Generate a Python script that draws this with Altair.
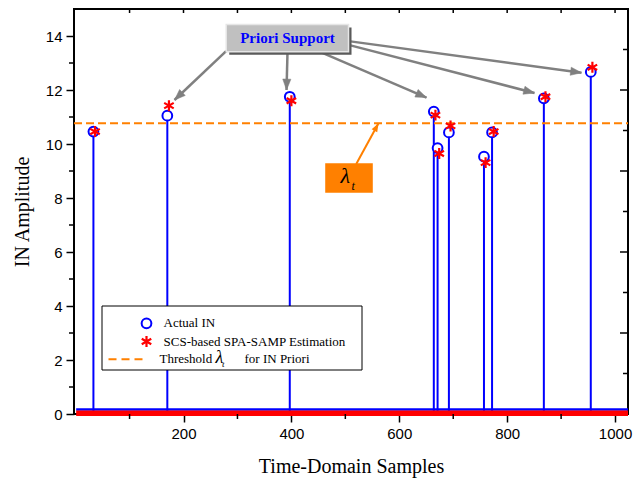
import math
import altair as alt
import pandas as pd

# ---------------- data ----------------
n_samples = 1024
actual_idx = [33, 170, 397, 664, 671, 692, 757, 772, 868, 955]
actual_amp = [10.46, 11.05, 11.75, 11.20, 9.85, 10.43, 9.53, 10.43, 11.69, 12.67]
est_idx = [36, 173, 400, 667, 674, 695, 760, 775, 871, 958]
est_amp = [10.46, 11.42, 11.60, 11.07, 9.65, 10.67, 9.31, 10.46, 11.75, 12.84]
threshold = 10.77

x_domain = [-3, 1024]
y_domain = [0, 15]
x_major = [200, 400, 600, 800, 1000]
x_minor = [100, 300, 500, 700, 900]
x_top = [100, 200, 300, 400, 500, 600, 700, 800, 900, 1000]
y_major = [0, 2, 4, 6, 8, 10, 12, 14]
y_minor = [1, 3, 5, 7, 9, 11, 13]
y_right_major = [3, 6, 9, 12]
y_right_minor = [1.5, 4.5, 7.5, 10.5, 13.5]

# annotation anchors (data units)
support_box = {"x1": [279.2], "x2": [505.9], "y1": [14.43], "y2": [13.42]}
support_text_pos = {"x": [392.8], "y": [13.93]}
arrow_x0 = [279.0, 392.8, 452.1, 505.9, 505.9]
arrow_y0 = [13.44, 13.41, 13.42, 13.67, 13.81]
arrow_x1 = [183.3, 391.0, 650.5, 850.7, 937.8]
arrow_y1 = [11.63, 12.00, 11.72, 11.89, 12.64]
lam_box = {"x1": [462.7], "x2": [550.9], "y1": [9.285], "y2": [8.196]}
lam_arrow = {"x0": [520.2], "y0": [9.26], "x1": [561.5], "y1": [10.77]}
lam_text = {"x": [500.0], "y": [8.81]}
lam_sub = {"x": [514.5], "y": [8.44]}

W, H = 554, 405
BLUE = "#0000FF"
RED = "#FF0000"
ORANGE = "#FF8000"
GRAY = "#808080"
STAR = "M0,-1L0,1M-0.87,-0.5L0.87,0.5M-0.87,0.5L0.87,-0.5"
HEAD = "M0,0L-0.45,1.2L0.45,1.2Z"

xs = alt.Scale(domain=x_domain, nice=False, zero=False)
ys = alt.Scale(domain=y_domain, nice=False, zero=False)
x_axis = alt.Axis(values=x_major, format="d", title="Time-Domain Samples", titlePadding=15)
y_axis = alt.Axis(values=y_major, format="d", title="IN Amplitude", titlePadding=13)


def head_angle(x0, y0, x1, y1):
    kx, ky = W / (x_domain[1] - x_domain[0]), H / (y_domain[1] - y_domain[0])
    dx, dy = (x1 - x0) * kx, -(y1 - y0) * ky
    return math.degrees(math.atan2(dx, -dy)) % 360


actual_df = pd.DataFrame({"idx": actual_idx, "amp": actual_amp, "base": 0.0})
est_df = pd.DataFrame({"idx": est_idx, "amp": est_amp})
base_df = pd.DataFrame({"start": [1], "end": [n_samples], "level": [0.0]})
thr_df = pd.DataFrame({"start": [x_domain[0]], "end": [x_domain[1]], "level": [threshold]})
arrow_df = pd.DataFrame({"x0": arrow_x0, "y0": arrow_y0, "x1": arrow_x1, "y1": arrow_y1})
arrow_df["ang"] = [head_angle(*r) for r in zip(arrow_x0, arrow_y0, arrow_x1, arrow_y1)]
lam_arrow_df = pd.DataFrame(lam_arrow)
lam_arrow_df["ang"] = [head_angle(lam_arrow["x0"][0], lam_arrow["y0"][0], lam_arrow["x1"][0], lam_arrow["y1"][0])]

X = lambda f: alt.X(f, scale=xs, axis=x_axis)
Y = lambda f: alt.Y(f, scale=ys, axis=y_axis)

stems = alt.Chart(actual_df).mark_rule(color=BLUE, strokeWidth=2).encode(
    x=X("idx:Q"), y=Y("base:Q"), y2="amp:Q")
base_blue = alt.Chart(base_df).mark_rule(color=BLUE, strokeWidth=2.5, yOffset=-4.5).encode(
    x=X("start:Q"), x2="end:Q", y=Y("level:Q"))
base_red = alt.Chart(base_df).mark_rule(color=RED, strokeWidth=5.5, yOffset=-0.7).encode(
    x=X("start:Q"), x2="end:Q", y=Y("level:Q"))
thr = alt.Chart(thr_df).mark_rule(color=ORANGE, strokeWidth=2, strokeDash=[8, 4]).encode(
    x=X("start:Q"), x2="end:Q", y=Y("level:Q"))
circles = alt.Chart(actual_df).mark_circle(size=95, fill="white", stroke=BLUE, strokeWidth=2, opacity=1).encode(
    x=X("idx:Q"), y=Y("amp:Q"))
stars = alt.Chart(est_df).mark_point(shape=STAR, size=120, filled=False, stroke=RED, strokeWidth=2.2, opacity=1).encode(
    x=X("idx:Q"), y=Y("amp:Q"))

# minor / mirrored ticks
xminor_df = pd.DataFrame({"v": x_minor})
xtop_df = pd.DataFrame({"v": x_top})
yminor_df = pd.DataFrame({"v": y_minor})
yrmaj_df = pd.DataFrame({"v": y_right_major})
yrmin_df = pd.DataFrame({"v": y_right_minor})
tk = dict(color="black", strokeWidth=1.5)
t_xminor = alt.Chart(xminor_df).mark_rule(**tk).encode(x=X("v:Q"), y=alt.value(H), y2=alt.value(H + 5))
t_xtop = alt.Chart(xtop_df).mark_rule(**tk).encode(x=X("v:Q"), y=alt.value(0), y2=alt.value(4))
t_yminor = alt.Chart(yminor_df).mark_rule(**tk).encode(y=Y("v:Q"), x=alt.value(0), x2=alt.value(-5))
t_yrmaj = alt.Chart(yrmaj_df).mark_rule(**tk).encode(y=Y("v:Q"), x=alt.value(W), x2=alt.value(W - 8))
t_yrmin = alt.Chart(yrmin_df).mark_rule(**tk).encode(y=Y("v:Q"), x=alt.value(W), x2=alt.value(W - 5))

# Priori Support annotation
sb = pd.DataFrame(support_box)
box_shadow = alt.Chart(sb).mark_rect(fill="#5a5a5a", xOffset=3, x2Offset=3, yOffset=3, y2Offset=3).encode(
    x=X("x1:Q"), x2="x2:Q", y=Y("y1:Q"), y2="y2:Q")
box = alt.Chart(sb).mark_rect(fill="#C0C0C0", stroke="#E6E6E6", strokeWidth=1.5).encode(
    x=X("x1:Q"), x2="x2:Q", y=Y("y1:Q"), y2="y2:Q")
box_text = alt.Chart(pd.DataFrame(support_text_pos)).mark_text(
    text="Priori Support", font="Liberation Serif", fontSize=15, fontWeight="bold", color=BLUE,
    align="center", baseline="middle").encode(x=X("x:Q"), y=Y("y:Q"))
arrows = alt.Chart(arrow_df).mark_rule(color=GRAY, strokeWidth=2.5).encode(
    x=X("x0:Q"), y=Y("y0:Q"), x2="x1:Q", y2="y1:Q")
heads = alt.Chart(arrow_df).mark_point(shape=HEAD, size=330, filled=True, fill=GRAY, stroke=GRAY, strokeWidth=0.5, opacity=1).encode(
    x=X("x1:Q"), y=Y("y1:Q"), angle=alt.Angle("ang:Q", scale=None))

# lambda annotation
lb = alt.Chart(pd.DataFrame(lam_box)).mark_rect(fill=ORANGE).encode(
    x=X("x1:Q"), x2="x2:Q", y=Y("y1:Q"), y2="y2:Q")
lam_line = alt.Chart(lam_arrow_df).mark_rule(color=ORANGE, strokeWidth=2).encode(
    x=X("x0:Q"), y=Y("y0:Q"), x2="x1:Q", y2="y1:Q")
lam_head = alt.Chart(lam_arrow_df).mark_point(shape=HEAD, size=200, filled=True, fill=ORANGE, opacity=1).encode(
    x=X("x1:Q"), y=Y("y1:Q"), angle=alt.Angle("ang:Q", scale=None))
lam_t = alt.Chart(pd.DataFrame(lam_text)).mark_text(
    text="λ", font="Liberation Serif", fontSize=22, fontStyle="italic", color="black",
    align="center", baseline="middle").encode(x=X("x:Q"), y=Y("y:Q"))
lam_s = alt.Chart(pd.DataFrame(lam_sub)).mark_text(
    text="t", font="Liberation Serif", fontSize=12, fontStyle="italic", color="black",
    align="center", baseline="middle").encode(x=X("x:Q"), y=Y("y:Q"))

# legend (drawn by hand)
leg_df = pd.DataFrame({"a": [0]})
lg = alt.Chart(leg_df)
leg_box = lg.mark_rect(fill="white", stroke="black", strokeWidth=1).encode(
    x=alt.value(28), x2=alt.value(288), y=alt.value(297), y2=alt.value(361))
leg_c = lg.mark_circle(size=95, fill="white", stroke=BLUE, strokeWidth=2, opacity=1).encode(
    x=alt.value(72.5), y=alt.value(314.3))
leg_s = lg.mark_point(shape=STAR, size=120, filled=False, stroke=RED, strokeWidth=2.2, opacity=1).encode(
    x=alt.value(72.5), y=alt.value(332.5))
leg_d = lg.mark_rule(color=ORANGE, strokeWidth=2, strokeDash=[8, 5]).encode(
    x=alt.value(34.5), x2=alt.value(71.5), y=alt.value(350.3))
ltxt = dict(font="Liberation Serif", fontSize=13, color="black", align="left", baseline="middle")
leg_t1 = lg.mark_text(text="Actual IN", **ltxt).encode(x=alt.value(89.5), y=alt.value(314.3))
leg_t2 = lg.mark_text(text="SCS-based SPA-SAMP Estimation", **ltxt).encode(x=alt.value(89.5), y=alt.value(332.7))
leg_t3 = lg.mark_text(text="Threshold", **ltxt).encode(x=alt.value(85.5), y=alt.value(350.3))
leg_l = lg.mark_text(text="λ", font="Liberation Serif", fontSize=18, fontStyle="italic", color="black",
                     align="left", baseline="middle").encode(x=alt.value(141.5), y=alt.value(349))
leg_lt = lg.mark_text(text="t", font="Liberation Serif", fontSize=9, fontStyle="italic", color="black",
                      align="left", baseline="middle").encode(x=alt.value(148), y=alt.value(355))
leg_t4 = lg.mark_text(text="for IN Priori", **ltxt).encode(x=alt.value(170.5), y=alt.value(350.3))

chart = alt.layer(
    stems, thr, base_blue, base_red, circles, stars,
    t_xminor, t_xtop, t_yminor, t_yrmaj, t_yrmin,
    arrows, heads, box_shadow, box, box_text,
    lam_line, lam_head, lb, lam_t, lam_s,
    leg_box, leg_c, leg_s, leg_d, leg_t1, leg_t2, leg_t3, leg_l, leg_lt, leg_t4,
).properties(
    width=W, height=H,
    padding={"left": 74, "top": 9, "right": 8, "bottom": 69},
    autosize=alt.AutoSizeParams(type="none"),
    background="white",
).configure_view(stroke="black", strokeWidth=2).configure_axis(
    domain=False, grid=False, ticks=True, tickSize=8, tickWidth=1.5, tickColor="black",
    labelFont="Liberation Sans", labelFontSize=15, labelColor="black", labelPadding=4,
    titleFont="Liberation Serif", titleFontSize=20, titleFontWeight="normal", titleColor="black",
)

chart.save("out.html", embed_options={"renderer": "svg", "actions": False})
